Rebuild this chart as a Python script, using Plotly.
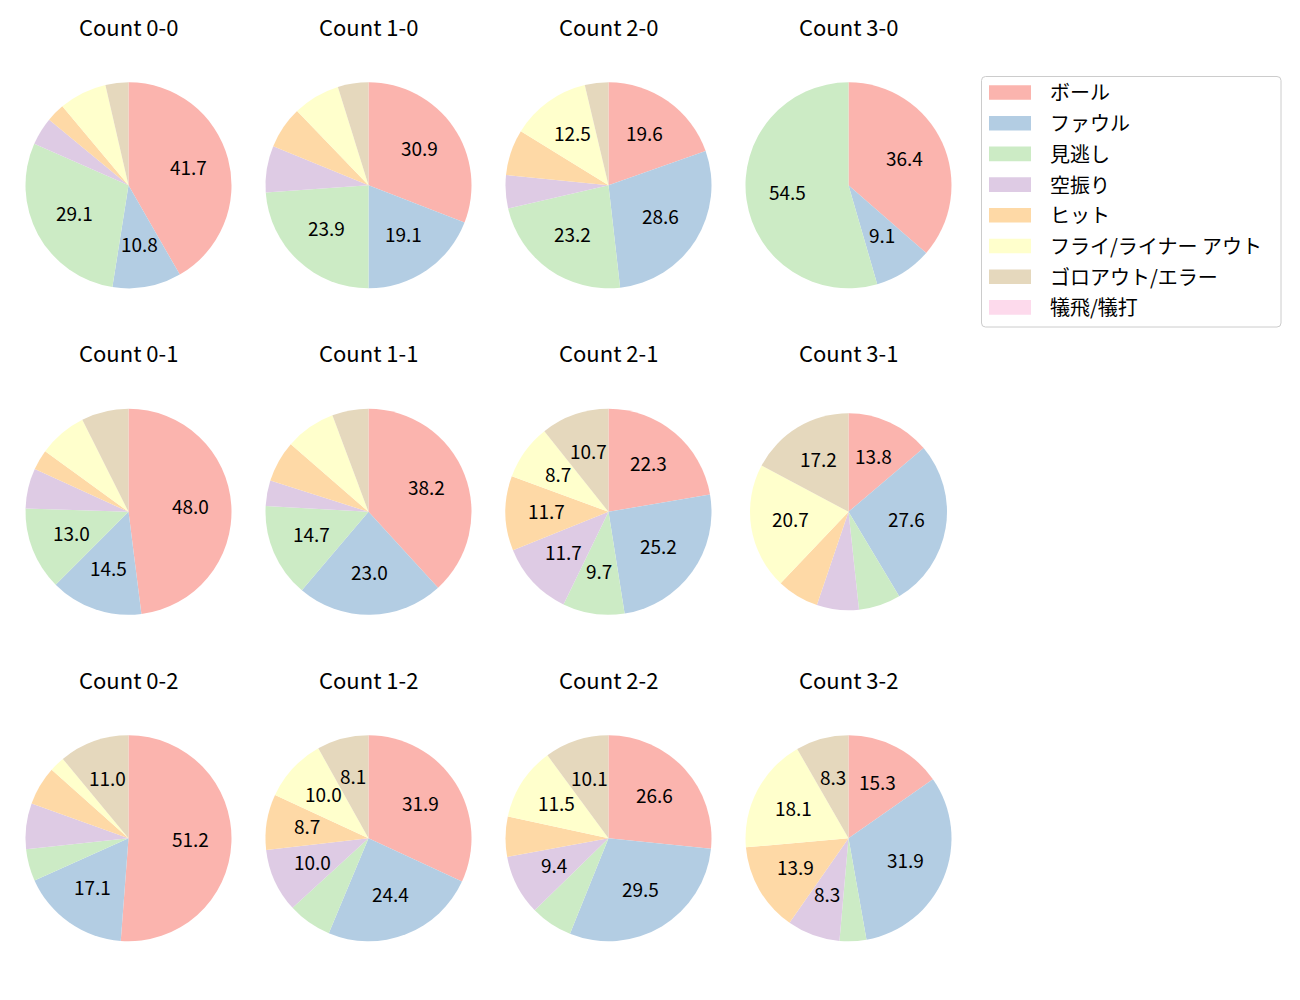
import math
import plotly.graph_objects as go

# ---------------- data ----------------
labels = ['ボール', 'ファウル', '見逃し', '空振り', 'ヒット',
          'フライ/ライナー アウト', 'ゴロアウト/エラー', '犠飛/犠打']
colors = ['#fbb4ae', '#b3cde3', '#ccebc5', '#decbe4', '#fed9a6',
          '#ffffcc', '#e5d8bd', '#fddaec']

count_names = ['0-0', '1-0', '2-0', '3-0',
               '0-1', '1-1', '2-1', '3-1',
               '0-2', '1-2', '2-2', '3-2']

count_0_0 = [41.7, 10.8, 29.1, 4.4, 2.9, 7.5, 3.6, 0]
count_1_0 = [30.9, 19.1, 23.9, 7.3, 6.6, 7.4, 4.8, 0]
count_2_0 = [19.6, 28.6, 23.2, 5.2, 7.2, 12.5, 3.7, 0]
count_3_0 = [36.4, 9.1, 54.5, 0, 0, 0, 0, 0]
count_0_1 = [48.0, 14.5, 13.0, 6.3, 3.2, 7.6, 7.4, 0]
count_1_1 = [38.2, 23.0, 14.7, 4.0, 6.5, 7.9, 5.7, 0]
count_2_1 = [22.3, 25.2, 9.7, 11.7, 11.7, 8.7, 10.7, 0]
count_3_1 = [13.8, 27.6, 6.9, 6.9, 6.9, 20.7, 17.2, 0]
count_0_2 = [51.2, 17.1, 5.0, 7.2, 6.1, 2.4, 11.0, 0]
count_1_2 = [31.9, 24.4, 6.9, 10.0, 8.7, 10.0, 8.1, 0]
count_2_2 = [26.6, 29.5, 6.6, 9.4, 6.3, 11.5, 10.1, 0]
count_3_2 = [15.3, 31.9, 4.2, 8.3, 13.9, 18.1, 8.3, 0]

count_values = [count_0_0, count_1_0, count_2_0, count_3_0,
                count_0_1, count_1_1, count_2_1, count_3_1,
                count_0_2, count_1_2, count_2_2, count_3_2]

min_label_pct = 8.0

# ---------------- layout helpers ----------------
OFF = 8            # page body margin
W, H = 1284, 984   # figure size so that page fits the window
FONT = 'Noto Sans CJK JP'


def px_x(px):
    return (px - OFF) / W


def px_y(py):
    return 1 - (py - OFF) / H


col_x0, col_step = 128.5, 240.0
row_y0, row_step = 185.3, 326.5
title_y0 = 25.5
label_dy = -2.5
radius_default = 103.0
radius_small = {'3-1': 98.5}

fig = go.Figure()
annotations = []

for i, (name, vals) in enumerate(zip(count_names, count_values)):
    row, col = divmod(i, 4)
    cx = col_x0 + col * col_step
    cy = row_y0 + row * row_step
    r = radius_small.get(name, radius_default)

    fig.add_trace(go.Pie(
        labels=labels,
        values=vals,
        marker=dict(colors=colors, line=dict(width=0)),
        sort=False,
        direction='clockwise',
        rotation=0,
        textinfo='none',
        hovertemplate='%{label}: %{percent}<extra>Count ' + name + '</extra>',
        showlegend=False,
        domain=dict(x=[px_x(cx - r), px_x(cx + r)],
                    y=[px_y(cy + r), px_y(cy - r)]),
    ))

    # title
    annotations.append(dict(
        text='Count ' + name, x=px_x(cx), y=px_y(title_y0 + row * row_step),
        xref='paper', yref='paper', xanchor='center', yanchor='middle',
        showarrow=False, font=dict(family=FONT, size=22, color='#000000')))

    # percentage labels (matplotlib-like pctdistance 0.6)
    total = sum(vals)
    cum = 0.0
    for v in vals:
        pct = v / total * 100
        mid = (cum + v / 2) / total * 2 * math.pi
        cum += v
        if v <= 0 or pct < min_label_pct:
            continue
        tx = cx + 0.6 * r * math.sin(mid)
        ty = cy - 0.6 * r * math.cos(mid) + label_dy
        annotations.append(dict(
            text=f'{pct:.1f}', x=px_x(tx), y=px_y(ty),
            xref='paper', yref='paper', xanchor='center', yanchor='middle',
            showarrow=False, font=dict(family=FONT, size=19, color='#000000')))

# ---------------- legend (drawn) ----------------
lg_x0, lg_x1, lg_y0, lg_y1, rr = 981.5, 1281.0, 76.5, 327.0, 4.0
path = (f'M {px_x(lg_x0 + rr)},{px_y(lg_y0)} L {px_x(lg_x1 - rr)},{px_y(lg_y0)} '
        f'Q {px_x(lg_x1)},{px_y(lg_y0)} {px_x(lg_x1)},{px_y(lg_y0 + rr)} '
        f'L {px_x(lg_x1)},{px_y(lg_y1 - rr)} '
        f'Q {px_x(lg_x1)},{px_y(lg_y1)} {px_x(lg_x1 - rr)},{px_y(lg_y1)} '
        f'L {px_x(lg_x0 + rr)},{px_y(lg_y1)} '
        f'Q {px_x(lg_x0)},{px_y(lg_y1)} {px_x(lg_x0)},{px_y(lg_y1 - rr)} '
        f'L {px_x(lg_x0)},{px_y(lg_y0 + rr)} '
        f'Q {px_x(lg_x0)},{px_y(lg_y0)} {px_x(lg_x0 + rr)},{px_y(lg_y0)} Z')
shapes = [dict(type='path', path=path, xref='paper', yref='paper',
               line=dict(color='#cccccc', width=1), fillcolor='rgba(255,255,255,0.8)')]

item_y0, item_step = 92.5, 30.7
for k, (lab, colr) in enumerate(zip(labels, colors)):
    yc = item_y0 + k * item_step
    shapes.append(dict(type='rect', xref='paper', yref='paper',
                       x0=px_x(989), x1=px_x(1031),
                       y0=px_y(yc + 7.3), y1=px_y(yc - 7.3),
                       line=dict(width=0), fillcolor=colr))
    annotations.append(dict(
        text=lab, x=px_x(1048), y=px_y(yc - 0.5), xref='paper', yref='paper',
        xanchor='left', yanchor='middle', showarrow=False,
        font=dict(family=FONT, size=20, color='#000000')))

fig.update_layout(
    width=W, height=H,
    margin=dict(l=0, r=0, t=0, b=0),
    paper_bgcolor='white', plot_bgcolor='white',
    annotations=annotations,
    shapes=shapes,
    font=dict(family=FONT),
)

fig.write_html('out.html')
